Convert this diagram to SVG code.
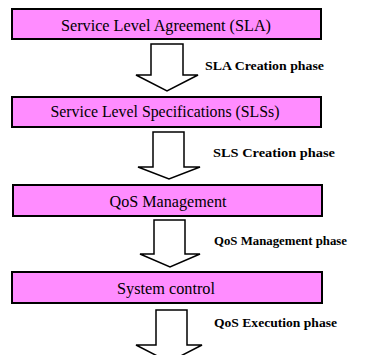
<svg xmlns="http://www.w3.org/2000/svg" width="371" height="355" viewBox="0 0 371 355">
<style>
.box{fill:#ff8cff;stroke:#000;stroke-width:2}
.arr{fill:#fff;stroke:#000;stroke-width:1.5;stroke-linejoin:miter}
.bt{font-size:16px;text-anchor:middle}
.lbl{font-size:12.5px;font-weight:bold}
</style>
<rect width="371" height="355" fill="#fff"/>
<g font-family="'Liberation Serif', 'DejaVu Serif', serif" fill="#000">
<g id="n1"><rect class="box" x="12" y="9" width="309" height="30"/><text class="bt" x="166" y="31" textLength="210" lengthAdjust="spacingAndGlyphs">Service Level Agreement (SLA)</text></g>
<g id="n2"><rect class="box" x="12" y="97" width="309" height="30"/><text class="bt" x="165" y="117" textLength="229" lengthAdjust="spacingAndGlyphs">Service Level Specifications (SLSs)</text></g>
<g id="n3"><rect class="box" x="13" y="185" width="309" height="31"/><text class="bt" x="168" y="207" textLength="117" lengthAdjust="spacingAndGlyphs">QoS Management</text></g>
<g id="n4"><rect class="box" x="12" y="272" width="310" height="31"/><text class="bt" x="166" y="294" textLength="98" lengthAdjust="spacingAndGlyphs">System control</text></g>
<g id="connectors">
<polygon class="arr" points="151,44 183,44 183,75 198,75 167,91 136,75 151,75"/>
<polygon class="arr" points="153,132 184,132 184,167 200,167 169,179 138,167 153,167"/>
<polygon class="arr" points="154,220 185,220 185,254 200,254 170,267 140,254 154,254"/>
<polygon class="arr" points="156,310 187,310 187,345 202,345 169,362 136,345 156,345"/>
<text class="lbl" x="205" y="70" textLength="119" lengthAdjust="spacingAndGlyphs">SLA Creation phase</text>
<text class="lbl" x="213" y="157" textLength="122" lengthAdjust="spacingAndGlyphs">SLS Creation phase</text>
<text class="lbl" x="214" y="245" textLength="133" lengthAdjust="spacingAndGlyphs">QoS Management phase</text>
<text class="lbl" x="214" y="327" textLength="123" lengthAdjust="spacingAndGlyphs">QoS Execution phase</text>
</g>
</g>
</svg>
